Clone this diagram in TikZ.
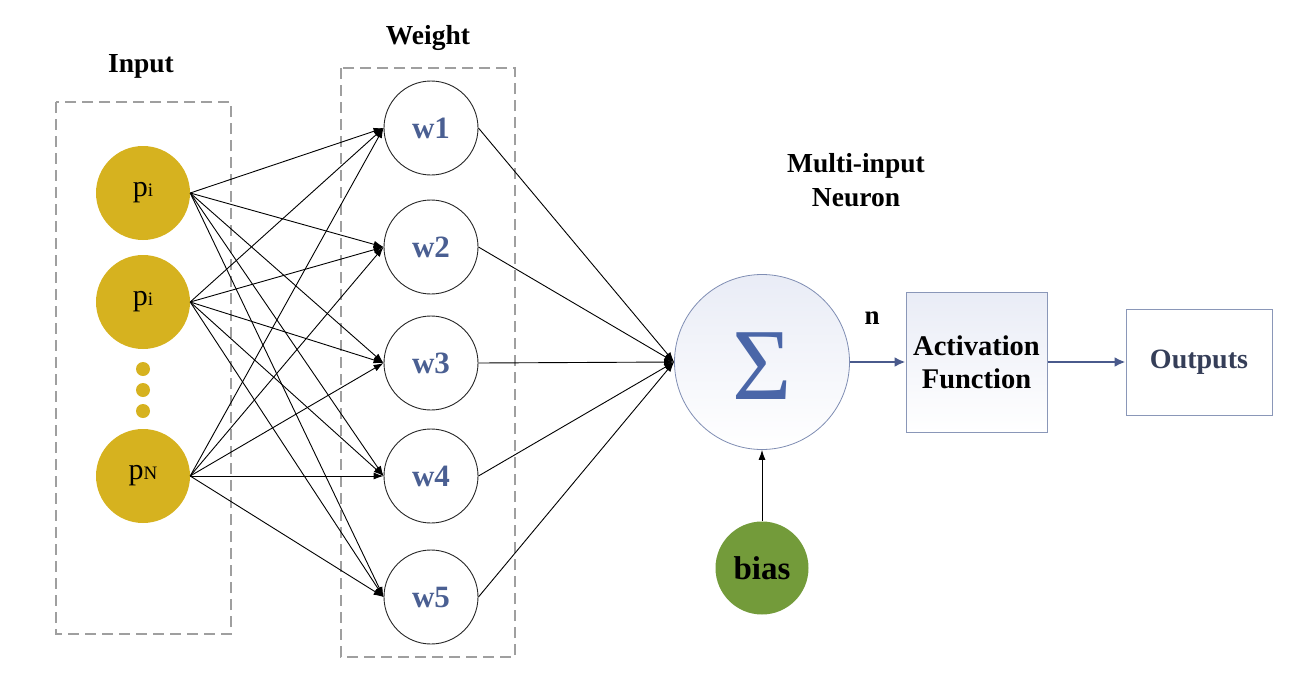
\documentclass[tikz,border=0pt]{standalone}
\usepackage{fontspec}
\setmainfont{Liberation Serif}
\usetikzlibrary{arrows.meta,shadings}
\definecolor{gold}{HTML}{D6B21F}
\definecolor{biasgreen}{HTML}{739B3A}
\definecolor{wblue}{HTML}{4A5F92}
\definecolor{sigblue}{HTML}{4A66A8}
\definecolor{sumborder}{HTML}{7F8DB3}
\definecolor{boxborder}{HTML}{8A97B8}
\definecolor{arrblue}{HTML}{4A5A8C}
\definecolor{outtext}{HTML}{353E58}
\definecolor{lightfill}{HTML}{E9ECF6}
\begin{document}
\begin{tikzpicture}[x=1pt,y=-1pt,
  inp/.style={circle,fill=gold,minimum size=94pt,inner sep=0pt,font=\fontsize{30}{32}\selectfont},
  dotn/.style={circle,fill=gold,minimum size=14pt,inner sep=0pt},
  wnode/.style={circle,draw=black!85,line width=0.9pt,minimum size=94pt,inner sep=0pt,font=\fontsize{31}{34}\selectfont\bfseries,text=wblue},
  conn/.style={line width=0.9pt,-{Latex[length=10pt,width=7pt]}},
  bconn/.style={line width=2.8pt,draw=arrblue,-{Latex[length=11pt,width=10pt]}},
  dbox/.style={draw=gray!75,dash pattern=on 11pt off 6pt,line width=1.1pt},
  lab/.style={font=\fontsize{27.5}{34}\selectfont\bfseries,align=center},
]
\useasboundingbox (0,0) rectangle (1307,675);
% dashed group boxes
\draw[dbox] (56,102) rectangle (231,634);
\draw[dbox] (341,68) rectangle (515,657);
% labels
\node[lab] (linput) at (141,66) {Input};
\node[lab] (lweight) at (428,38) {Weight};
\node[lab] (lneuron) at (856,180) {Multi-input\\Neuron};
% inputs
\node[inp] (p1) at (143,193) {p{\fontsize{19}{19}\selectfont i}};
\node[inp] (p2) at (143,302) {p{\fontsize{19}{19}\selectfont i}};
\node[inp] (pN) at (143,476) {p{\fontsize{19}{19}\selectfont N}};
\node[dotn] (d1) at (143,369) {};
\node[dotn] (d2) at (143,390) {};
\node[dotn] (d3) at (143,411) {};
% weights
\node[wnode] (w1) at (431,128) {w1};
\node[wnode] (w2) at (431,247) {w2};
\node[wnode] (w3) at (431,363) {w3};
\node[wnode] (w4) at (431,476) {w4};
\node[wnode] (w5) at (431,597) {w5};
% neuron
\node[circle,draw=sumborder,line width=0.8pt,minimum size=175pt,inner sep=0pt,
      top color=lightfill,bottom color=white] (sum) at (762,362) {};
\node[text=sigblue,font=\fontsize{102}{102}\selectfont,inner sep=0pt] (sigma) at (762,366) {Σ};
% activation and outputs
\node[draw=boxborder,line width=1pt,minimum width=141pt,minimum height=140pt,
      top color=lightfill,bottom color=white,align=center,
      font=\fontsize{28.5}{33}\selectfont\bfseries] (act) at (976.5,362) {Activation\\Function};
\node[draw=boxborder,line width=1pt,minimum width=146pt,minimum height=106pt,
      text=outtext,font=\fontsize{28}{30}\selectfont\bfseries] (out) at (1199,362) {Outputs};
% bias
\node[circle,fill=biasgreen,minimum size=93pt,inner sep=0pt,
      font=\fontsize{33}{34}\selectfont\bfseries] (bias) at (762,568) {bias};
\node[font=\fontsize{27}{30}\selectfont\bfseries] (nlab) at (872,318) {n};
% connections input -> weight
\foreach \p in {p1,p2,pN}{
  \foreach \w in {w1,w2,w3,w4,w5}{
    \draw[conn] (\p.east) -- (\w.west);
  }
}
% weight -> sum
\foreach \w in {w1,w2,w3,w4,w5}{
  \draw[conn] (\w.east) -- (sum.west);
}
\draw[conn] (bias.north) -- (sum.south);
\draw[bconn] (sum.east) -- (act.west);
\draw[bconn] (act.east) -- (out.west);
\end{tikzpicture}
\end{document}
